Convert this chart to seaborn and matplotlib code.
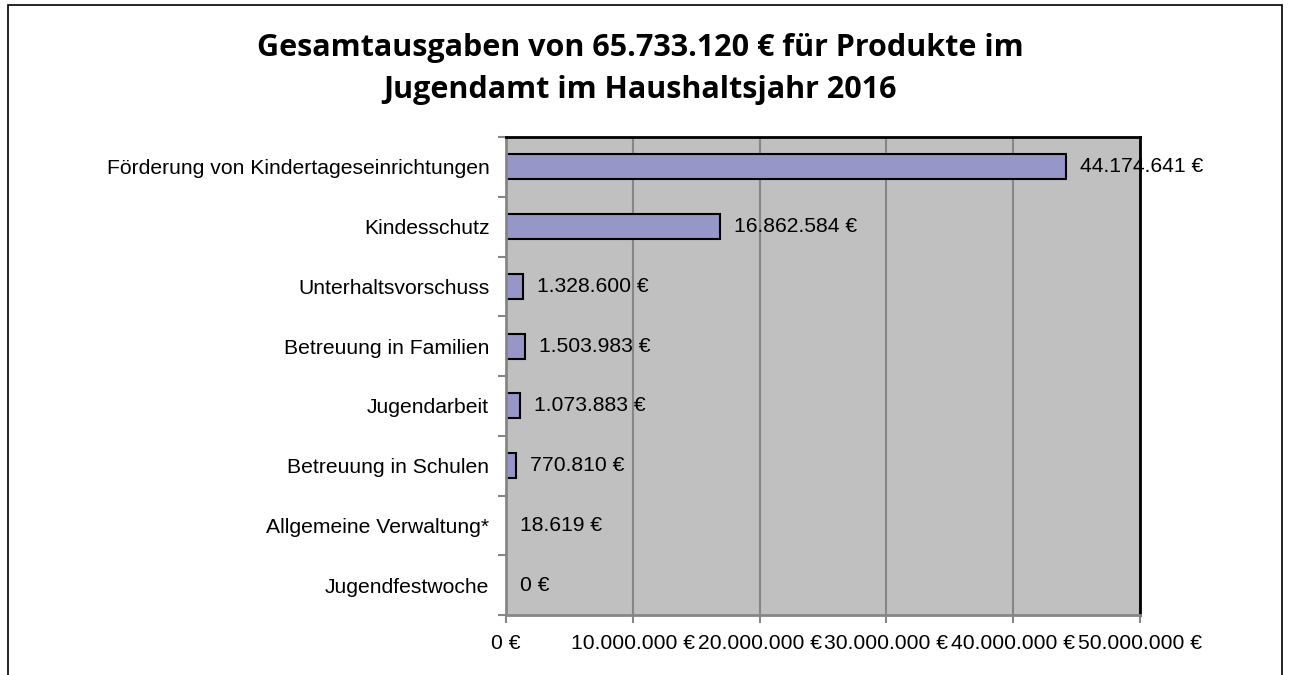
import matplotlib
matplotlib.use("Agg")
import matplotlib.pyplot as plt
import seaborn as sns
import pandas as pd
from matplotlib.patches import Rectangle

categories = ["Förderung von Kindertageseinrichtungen", "Kindesschutz", "Unterhaltsvorschuss",
              "Betreuung in Familien", "Jugendarbeit", "Betreuung in Schulen",
              "Allgemeine Verwaltung*", "Jugendfestwoche"]
values = [44174641, 16862584, 1328600, 1503983, 1073883, 770810, 18619, 0]
title = "Gesamtausgaben von 65.733.120 € für Produkte im\nJugendamt im Haushaltsjahr 2016"
xticks = [0, 10000000, 20000000, 30000000, 40000000, 50000000]

def fmt(v):
    return f"{v:,.0f}".replace(",", ".") + " €"

df = pd.DataFrame({"cat": categories, "val": values})

sns.set_theme(style="white")
plt.rcParams['font.family'] = ['Liberation Sans', 'DejaVu Sans']
plt.rcParams['text.color'] = 'black'
plt.rcParams['xtick.color'] = 'black'
plt.rcParams['ytick.color'] = 'black'
plt.rcParams['axes.labelcolor'] = 'black'

fig = plt.figure(figsize=(12.9, 6.75), dpi=100)
ax = fig.add_axes([506/1290, 1-615/675, (1140-506)/1290, (615-137)/675])
ax.set_facecolor("#C0C0C0")

sns.barplot(data=df, x="val", y="cat", orient="h", color="#9696C8", width=0.42,
            edgecolor="black", linewidth=1.5, ax=ax, saturation=1)

ax.set_xlim(0, 50000000)
ax.set_ylim(len(categories) - 0.5, -0.5)
ax.set_xticks(xticks)
ax.set_xticklabels([fmt(t) for t in xticks], fontsize=15.2)
ax.xaxis.grid(True, color="#868686", linewidth=1.5)
ax.set_axisbelow(True)
ax.set_xlabel("")
ax.set_ylabel("")
ax.tick_params(axis="y", labelsize=15.2, length=0, pad=12, labelcolor="black")
ax.tick_params(axis="x", length=6, color="#868686", width=1.5, pad=8, bottom=True, labelcolor="black")

ax.set_yticks([i + 0.5 for i in range(-1, len(categories))], minor=True)
ax.tick_params(axis="y", which="minor", length=6, color="#868686", width=1.5, left=True)

for s in ["left", "bottom"]:
    ax.spines[s].set_color("#868686")
    ax.spines[s].set_linewidth(2)
for s in ["top", "right"]:
    ax.spines[s].set_color("black")
    ax.spines[s].set_linewidth(2)

for i, v in enumerate(values):
    ax.annotate(fmt(v), xy=(v, i), xytext=(10, 0), textcoords="offset points",
                va="center", ha="left", fontsize=15.2, color="black", annotation_clip=False)

fig.text(640/1290, 1-69/675, title, ha="center", va="center", fontsize=22,
         fontweight="bold", family=["Open Sans", "DejaVu Sans"], linespacing=1.5, color="black")

fig.patches.append(Rectangle((8/1290, -0.1), (1282-8)/1290, 1.1 - 5/675, transform=fig.transFigure,
                             fill=False, edgecolor="black", linewidth=1.2))

fig.savefig("out.png", dpi=100)
